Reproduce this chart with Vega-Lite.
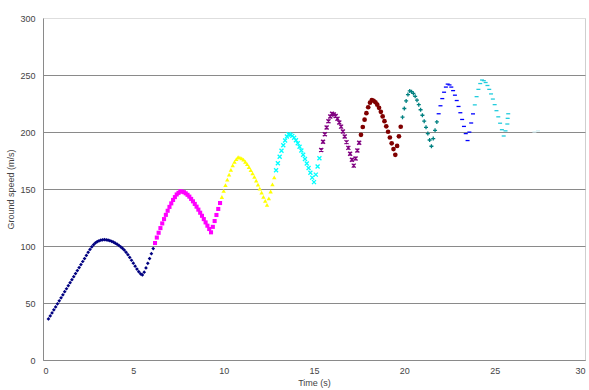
{
"$schema": "https://vega.github.io/schema/vega-lite/v6.json",
"width": 542, "height": 342,
"autosize": {"type": "none"},
"padding": {"left": 43, "top": 18, "right": 4, "bottom": 30},
"background": "white",
"config": {"font": "Liberation Sans", "view": {"stroke": "#cfcfcf", "strokeWidth": 1},
  "axis": {"labelFontSize": 9, "titleFontSize": 9, "titleFontWeight": "normal", "labelColor": "#444", "titleColor": "#444", "domainColor": "#8a8a8a", "tickColor": "#8a8a8a"}},
"datasets": {"pts": [
{"t":0.3,"v":36.0,"s":"1"},{"t":0.4,"v":38.7,"s":"1"},{"t":0.5,"v":41.3,"s":"1"},{"t":0.6,"v":44.0,"s":"1"},{"t":0.7,"v":46.6,"s":"1"},{"t":0.8,"v":49.3,"s":"1"},{"t":0.9,"v":51.9,"s":"1"},{"t":1.0,"v":54.6,"s":"1"},{"t":1.1,"v":57.2,"s":"1"},{"t":1.2,"v":59.9,"s":"1"},{"t":1.3,"v":62.5,"s":"1"},{"t":1.4,"v":65.2,"s":"1"},{"t":1.5,"v":67.8,"s":"1"},{"t":1.6,"v":70.5,"s":"1"},{"t":1.7,"v":73.1,"s":"1"},{"t":1.8,"v":75.8,"s":"1"},{"t":1.9,"v":78.4,"s":"1"},{"t":2.0,"v":81.1,"s":"1"},{"t":2.1,"v":83.7,"s":"1"},{"t":2.2,"v":86.4,"s":"1"},{"t":2.3,"v":89.0,"s":"1"},{"t":2.4,"v":91.7,"s":"1"},{"t":2.5,"v":94.5,"s":"1"},{"t":2.6,"v":97.0,"s":"1"},{"t":2.7,"v":99.3,"s":"1"},{"t":2.8,"v":101.2,"s":"1"},{"t":2.9,"v":102.7,"s":"1"},{"t":3.0,"v":103.8,"s":"1"},{"t":3.1,"v":104.6,"s":"1"},{"t":3.2,"v":105.1,"s":"1"},{"t":3.3,"v":105.4,"s":"1"},{"t":3.4,"v":105.5,"s":"1"},{"t":3.5,"v":105.4,"s":"1"},{"t":3.6,"v":105.1,"s":"1"},{"t":3.7,"v":104.7,"s":"1"},{"t":3.8,"v":104.1,"s":"1"},{"t":3.9,"v":103.4,"s":"1"},{"t":4.0,"v":102.5,"s":"1"},{"t":4.1,"v":101.6,"s":"1"},{"t":4.2,"v":100.5,"s":"1"},{"t":4.3,"v":99.3,"s":"1"},{"t":4.4,"v":98.0,"s":"1"},{"t":4.5,"v":96.4,"s":"1"},{"t":4.6,"v":94.5,"s":"1"},{"t":4.7,"v":92.4,"s":"1"},{"t":4.8,"v":90.0,"s":"1"},{"t":4.9,"v":87.5,"s":"1"},{"t":5.0,"v":84.9,"s":"1"},{"t":5.1,"v":82.3,"s":"1"},{"t":5.2,"v":79.8,"s":"1"},{"t":5.3,"v":77.5,"s":"1"},{"t":5.4,"v":75.6,"s":"1"},{"t":5.5,"v":74.6,"s":"1"},{"t":5.6,"v":77.0,"s":"1"},{"t":5.7,"v":80.8,"s":"1"},{"t":5.8,"v":84.8,"s":"1"},{"t":5.9,"v":89.0,"s":"1"},{"t":6.0,"v":93.3,"s":"1"},{"t":6.1,"v":97.7,"s":"1"},
{"t":6.2,"v":102.6,"s":"2"},{"t":6.3,"v":107.4,"s":"2"},{"t":6.4,"v":111.6,"s":"2"},{"t":6.5,"v":115.7,"s":"2"},{"t":6.6,"v":119.8,"s":"2"},{"t":6.7,"v":123.6,"s":"2"},{"t":6.8,"v":127.3,"s":"2"},{"t":6.9,"v":130.9,"s":"2"},{"t":7.0,"v":134.3,"s":"2"},{"t":7.1,"v":137.4,"s":"2"},{"t":7.2,"v":140.4,"s":"2"},{"t":7.3,"v":142.9,"s":"2"},{"t":7.4,"v":145.2,"s":"2"},{"t":7.5,"v":146.6,"s":"2"},{"t":7.6,"v":148.0,"s":"2"},{"t":7.7,"v":147.7,"s":"2"},{"t":7.8,"v":147.2,"s":"2"},{"t":7.9,"v":146.2,"s":"2"},{"t":8.0,"v":144.9,"s":"2"},{"t":8.1,"v":143.3,"s":"2"},{"t":8.2,"v":141.3,"s":"2"},{"t":8.3,"v":139.2,"s":"2"},{"t":8.4,"v":136.9,"s":"2"},{"t":8.5,"v":134.5,"s":"2"},{"t":8.6,"v":131.9,"s":"2"},{"t":8.7,"v":129.2,"s":"2"},{"t":8.8,"v":126.5,"s":"2"},{"t":8.9,"v":123.6,"s":"2"},{"t":9.0,"v":120.7,"s":"2"},{"t":9.1,"v":117.8,"s":"2"},{"t":9.2,"v":114.9,"s":"2"},{"t":9.3,"v":112.0,"s":"2"},{"t":9.4,"v":116.8,"s":"2"},{"t":9.5,"v":121.9,"s":"2"},{"t":9.6,"v":127.2,"s":"2"},{"t":9.7,"v":132.5,"s":"2"},{"t":9.8,"v":137.7,"s":"2"},
{"t":9.9,"v":143.0,"s":"3"},{"t":10.0,"v":148.3,"s":"3"},{"t":10.1,"v":153.4,"s":"3"},{"t":10.2,"v":158.2,"s":"3"},{"t":10.3,"v":162.6,"s":"3"},{"t":10.4,"v":166.8,"s":"3"},{"t":10.5,"v":170.7,"s":"3"},{"t":10.6,"v":173.8,"s":"3"},{"t":10.7,"v":176.2,"s":"3"},{"t":10.8,"v":178.0,"s":"3"},{"t":10.9,"v":177.6,"s":"3"},{"t":11.0,"v":176.9,"s":"3"},{"t":11.1,"v":175.7,"s":"3"},{"t":11.2,"v":173.9,"s":"3"},{"t":11.3,"v":171.8,"s":"3"},{"t":11.4,"v":169.3,"s":"3"},{"t":11.5,"v":166.6,"s":"3"},{"t":11.6,"v":163.7,"s":"3"},{"t":11.7,"v":160.6,"s":"3"},{"t":11.8,"v":157.3,"s":"3"},{"t":11.9,"v":153.9,"s":"3"},{"t":12.0,"v":150.4,"s":"3"},{"t":12.1,"v":146.8,"s":"3"},{"t":12.2,"v":143.1,"s":"3"},{"t":12.3,"v":139.5,"s":"3"},{"t":12.4,"v":136.0,"s":"3"},{"t":12.5,"v":141.7,"s":"3"},{"t":12.6,"v":147.8,"s":"3"},{"t":12.7,"v":154.0,"s":"3"},{"t":12.8,"v":160.2,"s":"3"},
{"t":12.9,"v":166.4,"s":"4"},{"t":13.0,"v":172.6,"s":"4"},{"t":13.1,"v":178.3,"s":"4"},{"t":13.2,"v":183.6,"s":"4"},{"t":13.3,"v":188.4,"s":"4"},{"t":13.4,"v":192.6,"s":"4"},{"t":13.5,"v":196.0,"s":"4"},{"t":13.6,"v":198.0,"s":"4"},{"t":13.7,"v":197.6,"s":"4"},{"t":13.8,"v":196.6,"s":"4"},{"t":13.9,"v":195.0,"s":"4"},{"t":14.0,"v":192.8,"s":"4"},{"t":14.1,"v":190.1,"s":"4"},{"t":14.2,"v":187.0,"s":"4"},{"t":14.3,"v":183.7,"s":"4"},{"t":14.4,"v":180.1,"s":"4"},{"t":14.5,"v":176.3,"s":"4"},{"t":14.6,"v":172.4,"s":"4"},{"t":14.7,"v":168.4,"s":"4"},{"t":14.8,"v":164.2,"s":"4"},{"t":14.9,"v":160.0,"s":"4"},{"t":15.0,"v":156.0,"s":"4"},{"t":15.1,"v":162.6,"s":"4"},{"t":15.2,"v":169.8,"s":"4"},{"t":15.3,"v":177.0,"s":"4"},
{"t":15.4,"v":184.2,"s":"5"},{"t":15.5,"v":191.4,"s":"5"},{"t":15.6,"v":198.0,"s":"5"},{"t":15.7,"v":204.0,"s":"5"},{"t":15.8,"v":209.4,"s":"5"},{"t":15.9,"v":213.6,"s":"5"},{"t":16.0,"v":216.0,"s":"5"},{"t":16.1,"v":215.4,"s":"5"},{"t":16.2,"v":214.0,"s":"5"},{"t":16.3,"v":211.6,"s":"5"},{"t":16.4,"v":208.4,"s":"5"},{"t":16.5,"v":204.7,"s":"5"},{"t":16.6,"v":200.5,"s":"5"},{"t":16.7,"v":196.0,"s":"5"},{"t":16.8,"v":191.1,"s":"5"},{"t":16.9,"v":186.1,"s":"5"},{"t":17.0,"v":180.9,"s":"5"},{"t":17.1,"v":175.6,"s":"5"},{"t":17.2,"v":170.5,"s":"5"},{"t":17.3,"v":176.8,"s":"5"},{"t":17.4,"v":183.7,"s":"5"},{"t":17.5,"v":190.6,"s":"5"},
{"t":17.6,"v":197.5,"s":"6"},{"t":17.7,"v":204.4,"s":"6"},{"t":17.8,"v":210.8,"s":"6"},{"t":17.9,"v":216.5,"s":"6"},{"t":18.0,"v":221.7,"s":"6"},{"t":18.1,"v":225.7,"s":"6"},{"t":18.2,"v":228.0,"s":"6"},{"t":18.3,"v":227.4,"s":"6"},{"t":18.4,"v":226.1,"s":"6"},{"t":18.5,"v":224.0,"s":"6"},{"t":18.6,"v":221.2,"s":"6"},{"t":18.7,"v":217.7,"s":"6"},{"t":18.8,"v":213.7,"s":"6"},{"t":18.9,"v":209.5,"s":"6"},{"t":19.0,"v":205.0,"s":"6"},{"t":19.1,"v":200.2,"s":"6"},{"t":19.2,"v":195.2,"s":"6"},{"t":19.3,"v":190.1,"s":"6"},{"t":19.4,"v":185.0,"s":"6"},{"t":19.5,"v":180.0,"s":"6"},{"t":19.6,"v":187.8,"s":"6"},{"t":19.7,"v":196.2,"s":"6"},{"t":19.8,"v":204.6,"s":"6"},
{"t":19.9,"v":213.0,"s":"7"},{"t":20.0,"v":220.6,"s":"7"},{"t":20.1,"v":227.3,"s":"7"},{"t":20.2,"v":232.8,"s":"7"},{"t":20.3,"v":236.0,"s":"7"},{"t":20.4,"v":235.4,"s":"7"},{"t":20.5,"v":233.8,"s":"7"},{"t":20.6,"v":231.3,"s":"7"},{"t":20.7,"v":227.9,"s":"7"},{"t":20.8,"v":224.0,"s":"7"},{"t":20.9,"v":219.5,"s":"7"},{"t":21.0,"v":214.7,"s":"7"},{"t":21.1,"v":209.5,"s":"7"},{"t":21.2,"v":204.1,"s":"7"},{"t":21.3,"v":198.6,"s":"7"},{"t":21.4,"v":193.0,"s":"7"},{"t":21.5,"v":187.5,"s":"7"},{"t":21.6,"v":194.2,"s":"7"},{"t":21.7,"v":201.5,"s":"7"},{"t":21.8,"v":208.8,"s":"7"},
{"t":21.9,"v":216.0,"s":"8"},{"t":22.0,"v":223.0,"s":"8"},{"t":22.1,"v":229.3,"s":"8"},{"t":22.2,"v":234.9,"s":"8"},{"t":22.3,"v":239.4,"s":"8"},{"t":22.4,"v":242.0,"s":"8"},{"t":22.5,"v":241.3,"s":"8"},{"t":22.6,"v":239.4,"s":"8"},{"t":22.7,"v":236.3,"s":"8"},{"t":22.8,"v":232.3,"s":"8"},{"t":22.9,"v":227.6,"s":"8"},{"t":23.0,"v":222.4,"s":"8"},{"t":23.1,"v":216.9,"s":"8"},{"t":23.2,"v":211.0,"s":"8"},{"t":23.3,"v":204.9,"s":"8"},{"t":23.4,"v":198.6,"s":"8"},{"t":23.5,"v":192.5,"s":"8"},{"t":23.6,"v":199.9,"s":"8"},{"t":23.7,"v":207.9,"s":"8"},{"t":23.8,"v":215.9,"s":"8"},
{"t":23.9,"v":223.8,"s":"9"},{"t":24.0,"v":231.0,"s":"9"},{"t":24.1,"v":237.4,"s":"9"},{"t":24.2,"v":242.5,"s":"9"},{"t":24.3,"v":245.6,"s":"9"},{"t":24.4,"v":245.0,"s":"9"},{"t":24.5,"v":243.4,"s":"9"},{"t":24.6,"v":240.8,"s":"9"},{"t":24.7,"v":237.4,"s":"9"},{"t":24.8,"v":233.4,"s":"9"},{"t":24.9,"v":228.9,"s":"9"},{"t":25.0,"v":224.0,"s":"9"},{"t":25.1,"v":218.7,"s":"9"},{"t":25.2,"v":213.3,"s":"9"},{"t":25.3,"v":207.7,"s":"9"},{"t":25.4,"v":202.0,"s":"9"},{"t":25.5,"v":196.5,"s":"9"},{"t":25.6,"v":201.0,"s":"9"},{"t":25.7,"v":207.0,"s":"9"},{"t":25.72,"v":212.0,"s":"9"},{"t":25.75,"v":216.0,"s":"9"},
{"t":27.2,"v":200.0,"s":"10"},{"t":27.4,"v":201.0,"s":"10"}
]},
"data": {"name": "pts"},
"encoding": {
  "x": {"field": "t", "type": "quantitative", "scale": {"domain": [0, 30], "nice": false},
    "axis": {"title": "Time (s)", "values": [0, 5, 10, 15, 20, 25, 30], "grid": false, "ticks": false, "labelPadding": 6, "titlePadding": 3}},
  "y": {"field": "v", "type": "quantitative", "scale": {"domain": [0, 300], "nice": false},
    "axis": {"title": "Ground speed (m/s)", "values": [0, 50, 100, 150, 200, 250, 300], "grid": true,
      "gridColor": {"condition": {"test": "datum.value === 300", "value": "#dedede"}, "value": "#8a8a8a"},
      "ticks": false, "labelPadding": 8, "titlePadding": 4}},
  "color": {"field": "s", "type": "nominal", "legend": null,
    "scale": {"domain": ["1","2","3","4","5","6","7","8","9","10"],
      "range": ["#000080","#FF00FF","#FFFF00","#00FFFF","#800080","#800000","#008080","#0000FF","#22CCDD","#D4F0F4"]}},
  "shape": {"field": "s", "type": "nominal", "legend": null,
    "scale": {"domain": ["1","2","3","4","5","6","7","8","9","10"],
      "range": ["diamond","square","triangle-up","M-1,-1L1,1M-1,1L1,-1","M-1,-1L1,1M-1,1L1,-1M0,-1L0,1","circle","M-1,0L1,0M0,-1L0,1","M-1,0L1,0","M-1,0L1,0","M-1,0L1,0"]}}
},
"layer": [
  {"transform": [{"filter": "datum.s === '1' || datum.s === '2' || datum.s === '3' || datum.s === '6'"}],
   "mark": {"type": "point", "filled": true, "opacity": 1},
   "encoding": {"size": {"field": "s", "type": "nominal", "legend": null,
     "scale": {"domain": ["1","2","3","6"], "range": [14, 22, 22, 20]}}}},
  {"transform": [{"filter": "datum.s !== '1' && datum.s !== '2' && datum.s !== '3' && datum.s !== '6'"}],
   "mark": {"type": "point", "filled": false, "strokeWidth": 1.3, "size": 16, "opacity": 1}}
]
}
